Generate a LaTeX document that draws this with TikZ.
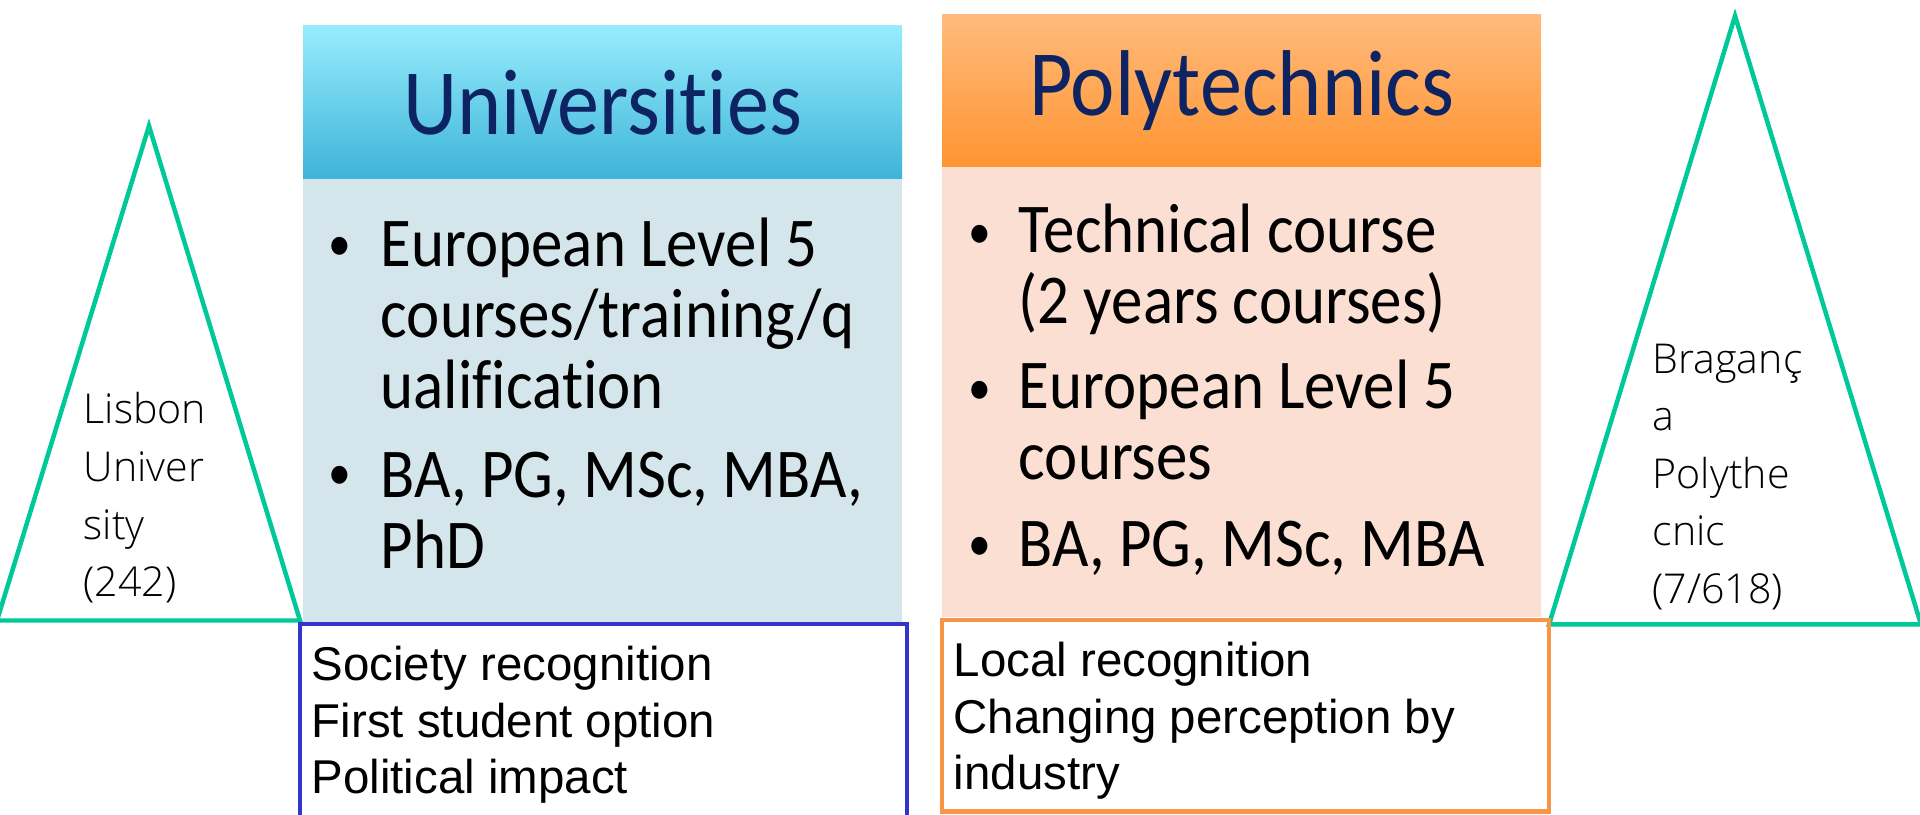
\documentclass[tikz,border=0pt]{standalone}
\usepackage{fontspec}
\setmainfont{Carlito}[FakeStretch=0.9, Ligatures=NoCommon]
\newfontfamily\notefont{Liberation Sans}
\newfontfamily\trifont{Open Sans Light}
\usetikzlibrary{positioning}

\definecolor{headnavy}{HTML}{0E2462}
\definecolor{uheadtop}{HTML}{98ECFC}
\definecolor{uheadbot}{HTML}{3DB4D9}
\definecolor{ubodyfill}{HTML}{D4E5EC}
\definecolor{pheadtop}{HTML}{FFBB7D}
\definecolor{pheadbot}{HTML}{FF9431}
\definecolor{pbodyfill}{HTML}{FBDFD3}
\definecolor{trigreen}{HTML}{00C999}
\definecolor{boxblue}{HTML}{3434CC}
\definecolor{boxorange}{HTML}{F79646}

\tikzset{
  head/.style={minimum width=5.99cm, minimum height=1.53cm, inner sep=0pt, outer sep=0pt, text=headnavy, font=\fontsize{26.6}{30}\selectfont},
  body/.style={minimum width=5.99cm, inner sep=0pt, outer sep=0pt},
  item/.style={anchor=north west, align=left, inner sep=0pt, font=\fontsize{19.9}{20.3}\selectfont},
  bul/.style={anchor=base, inner sep=0pt, font=\fontsize{14.4}{16}\selectfont},
  notebox/.style={draw, line width=1.25pt, minimum width=6.07cm, inner sep=0pt, outer sep=0pt},
  note/.style={anchor=north west, align=left, inner sep=0pt, font=\notefont\fontsize{13.5}{16.2}\selectfont},
  tri/.style={draw=trigreen, line width=1.28pt},
  trilabel/.style={anchor=north west, align=left, inner sep=0pt, font=\trifont\fontsize{11.7}{16.4}\selectfont}
}

\begin{document}
\begin{tikzpicture}
\useasboundingbox (0,0) rectangle (19.2,8.14);
\clip (0,0) rectangle (19.2,8.14);

% triangles
\draw[tri] (1.49,6.88) -- (3.00,1.935) -- (-0.03,1.935) -- cycle;
\node[trilabel] (lisbon) at (0.83,4.22) {Lisbon\\Univer\\sity\\(242)};
\draw[tri] (17.35,7.98) -- (19.21,1.895) -- (15.49,1.895) -- cycle;
\node[trilabel] (braganca) at (16.52,4.71) {Braganç\\a\\Polythe\\cnic\\(7/618)};

% universities
\node[head, top color=uheadtop, bottom color=uheadbot] (uhead) at (6.025,7.115) {Universities};
\node[body, fill=ubodyfill, minimum height=4.43cm, below=0pt of uhead] (ubody) {};
\node[bul] (ub1) at (3.40,5.53) {\textbullet};
\node[item] (ui1) at (3.80,5.97) {European Level 5\\courses/training/q\\ualification};
\node[bul] (ub2) at (3.40,3.24) {\textbullet};
\node[item] (ui2) at (3.80,3.63) {BA, PG, MSc, MBA,\\PhD};

% polytechnics
\node[head, top color=pheadtop, bottom color=pheadbot] (phead) at (12.415,7.23) {Polytechnics};
\node[body, fill=pbodyfill, minimum height=4.50cm, below=0pt of phead] (pbody) {};
\node[bul] (pb1) at (9.80,5.65) {\textbullet};
\node[item] (pi1) at (10.18,6.11) {Technical course\\(2 years courses)};
\node[bul] (pb2) at (9.80,4.09) {\textbullet};
\node[item] (pi2) at (10.18,4.55) {European Level 5\\courses};
\node[bul] (pb3) at (9.80,2.53) {\textbullet};
\node[item] (pi3) at (10.18,2.94) {BA, PG, MSc, MBA};

% recognition boxes
\node[notebox, draw=boxblue, minimum height=2.6cm, anchor=north] (ubox) at (6.035,1.90) {};
\node[notebox, draw=boxorange, minimum height=1.915cm, anchor=north] (pbox) at (12.455,1.94) {};
\node[note] (unote) at (3.11,1.69) {Society recognition\\First student option\\Political impact};
\node[note] (pnote) at (9.53,1.73) {Local recognition\\Changing perception by\\industry};
\end{tikzpicture}
\end{document}
